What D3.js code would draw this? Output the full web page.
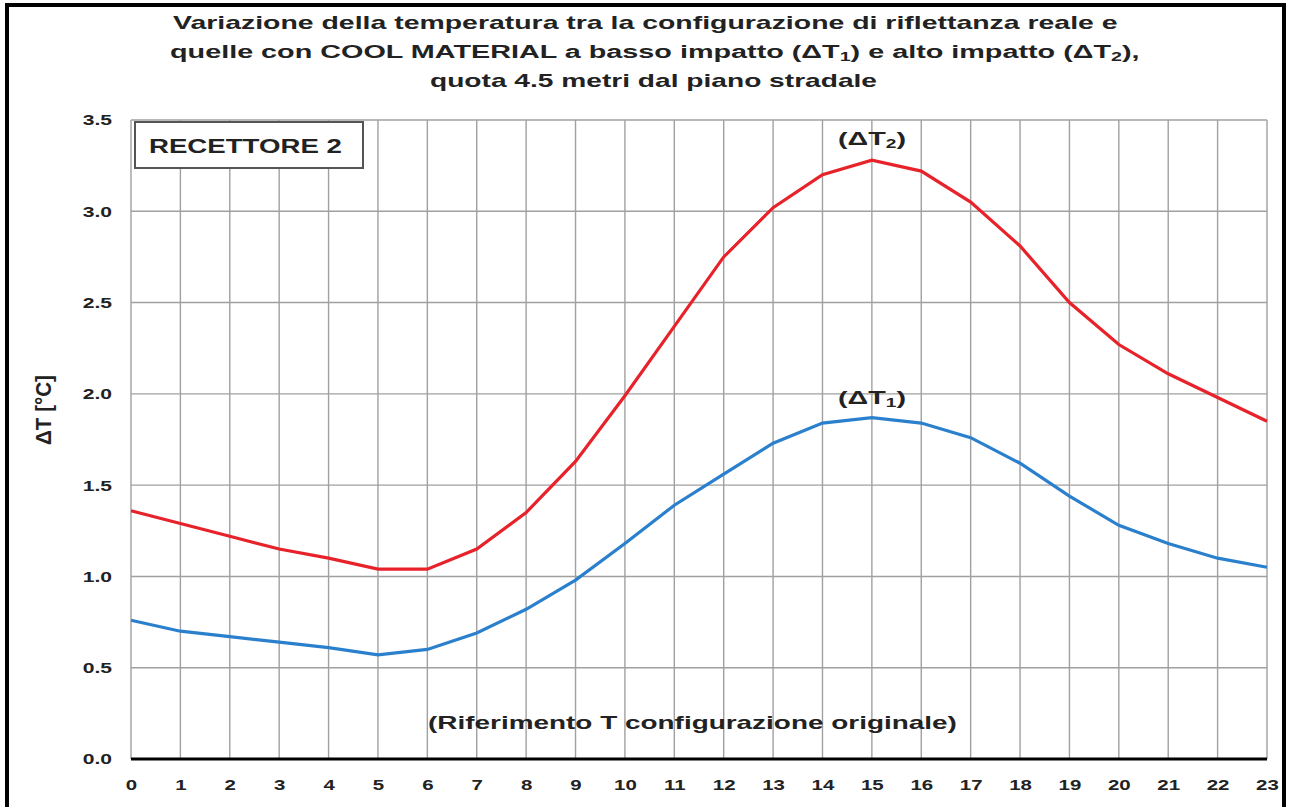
<!DOCTYPE html>
<html><head><meta charset="utf-8">
<script src="https://cdn.jsdelivr.net/npm/d3@7"></script>
<style>body{margin:0;background:#fff}text{font-family:"Liberation Sans",Arial,sans-serif;font-weight:bold}</style>
</head><body>
<svg id="c" width="1289" height="807"></svg>
<script>
const hours = d3.range(0, 24);
const dT2 = [1.36,1.29,1.22,1.15,1.10,1.04,1.04,1.15,1.35,1.63,1.99,2.37,2.75,3.02,3.20,3.28,3.22,3.05,2.81,2.50,2.27,2.11,1.98,1.85];
const dT1 = [0.76,0.70,0.67,0.64,0.61,0.57,0.60,0.69,0.82,0.98,1.18,1.39,1.56,1.73,1.84,1.87,1.84,1.76,1.62,1.44,1.28,1.18,1.10,1.05];
const yTicks = [0,0.5,1,1.5,2,2.5,3,3.5];
const titleLines = ["Variazione della temperatura tra la configurazione di riflettanza reale e",
  "quelle con COOL MATERIAL a basso impatto (ΔT|1) e alto impatto (ΔT|2),",
  "quota 4.5 metri dal piano stradale"];

const svg = d3.select("#c");
const x = d3.scaleLinear().domain([0,23]).range([131,1267]);
const y = d3.scaleLinear().domain([0,3.5]).range([759,120]);
const TXT = "#222";

// outer frame
svg.append("path").attr("d","M7,807 V5 H1284 V807").attr("fill","none").attr("stroke","#000").attr("stroke-width",4);

// grid
svg.append("g").selectAll("line").data(hours).join("line")
  .attr("x1",d=>x(d)).attr("x2",d=>x(d)).attr("y1",y(3.5)).attr("y2",y(0))
  .attr("stroke","#a0a0a0").attr("stroke-width",1.4);
svg.append("g").selectAll("line").data(yTicks.filter(d=>d>0)).join("line")
  .attr("x1",x(0)).attr("x2",x(23)).attr("y1",d=>y(d)).attr("y2",d=>y(d))
  .attr("stroke","#a0a0a0").attr("stroke-width",1.4);

// zero line
svg.append("line").attr("x1",x(0)).attr("x2",x(23)).attr("y1",y(0)).attr("y2",y(0)).attr("stroke","#000").attr("stroke-width",3);

// axes
const xAxis = svg.append("g").attr("transform",`translate(0,${y(0)})`)
  .call(d3.axisBottom(x).tickValues(hours).tickSize(0).tickPadding(20).tickFormat(d3.format("d")));
xAxis.select(".domain").remove();
xAxis.selectAll("text").attr("font-size",15.5).attr("fill",TXT).attr("transform","scale(1.32,1)")
  .style("font-family","Liberation Sans, Arial").style("font-weight","bold");
const yAxis = svg.append("g").attr("transform",`translate(${x(0)},0)`)
  .call(d3.axisLeft(y).tickValues(yTicks).tickSize(0).tickPadding(14).tickFormat(d3.format(".1f")));
yAxis.select(".domain").remove();
yAxis.selectAll("text").attr("font-size",15.5).attr("fill",TXT).attr("transform","scale(1.36,1)")
  .style("font-family","Liberation Sans, Arial").style("font-weight","bold");

// helper: place text stretched horizontally to a target width
function stretched(builder, left, baseline, width, size){
  const g = svg.append("g");
  const t = g.append("text").attr("font-size",size).attr("fill",TXT);
  builder(t);
  const w = t.node().getComputedTextLength();
  g.attr("transform",`translate(${left},${baseline}) scale(${width/w},1)`);
  return g;
}
function withSubs(t, str, subSize){
  str.split(/(\|\d)/).forEach(p=>{
    if(!p) return;
    if(p.startsWith("|")){
      t.append("tspan").attr("font-size",subSize).attr("baseline-shift","-25%").text(p.slice(1));
    } else t.append("tspan").text(p);
  });
}

// title
const tPos = [[173,29,945],[170,58,970],[430,87,447]];
titleLines.forEach((l,i)=>{
  stretched(t=>withSubs(t,l,13), tPos[i][0], tPos[i][1], tPos[i][2], 19);
});

// axis title (rotated)
{
  const g = svg.append("g");
  const t = g.append("text").attr("font-size",16).attr("fill",TXT).attr("text-anchor","middle").text("ΔT [°C]");
  const w = t.node().getComputedTextLength();
  g.attr("transform",`translate(51,410) rotate(-90) scale(${70/w},1.35)`);
}

// lines
const line = d3.line().x((d,i)=>x(hours[i])).y(d=>y(d));
svg.append("path").datum(dT2).attr("d",line).attr("fill","none").attr("stroke","#e8222a").attr("stroke-width",3.2);
svg.append("path").datum(dT1).attr("d",line).attr("fill","none").attr("stroke","#2a80cc").attr("stroke-width",3.2);

// legend box
svg.append("rect").attr("x",135).attr("y",122).attr("width",228).attr("height",46).attr("fill","#fff").attr("stroke","#555").attr("stroke-width",2);
stretched(t=>t.text("RECETTORE 2"), 149, 153, 193, 20);

// annotations
stretched(t=>withSubs(t,"(ΔT|2)",12), 838, 145, 68, 18);
stretched(t=>withSubs(t,"(ΔT|1)",12), 838, 404, 68, 18);

stretched(t=>t.text("(Riferimento  T configurazione originale)"), 428, 729, 529, 19);
</script>
</body></html>
